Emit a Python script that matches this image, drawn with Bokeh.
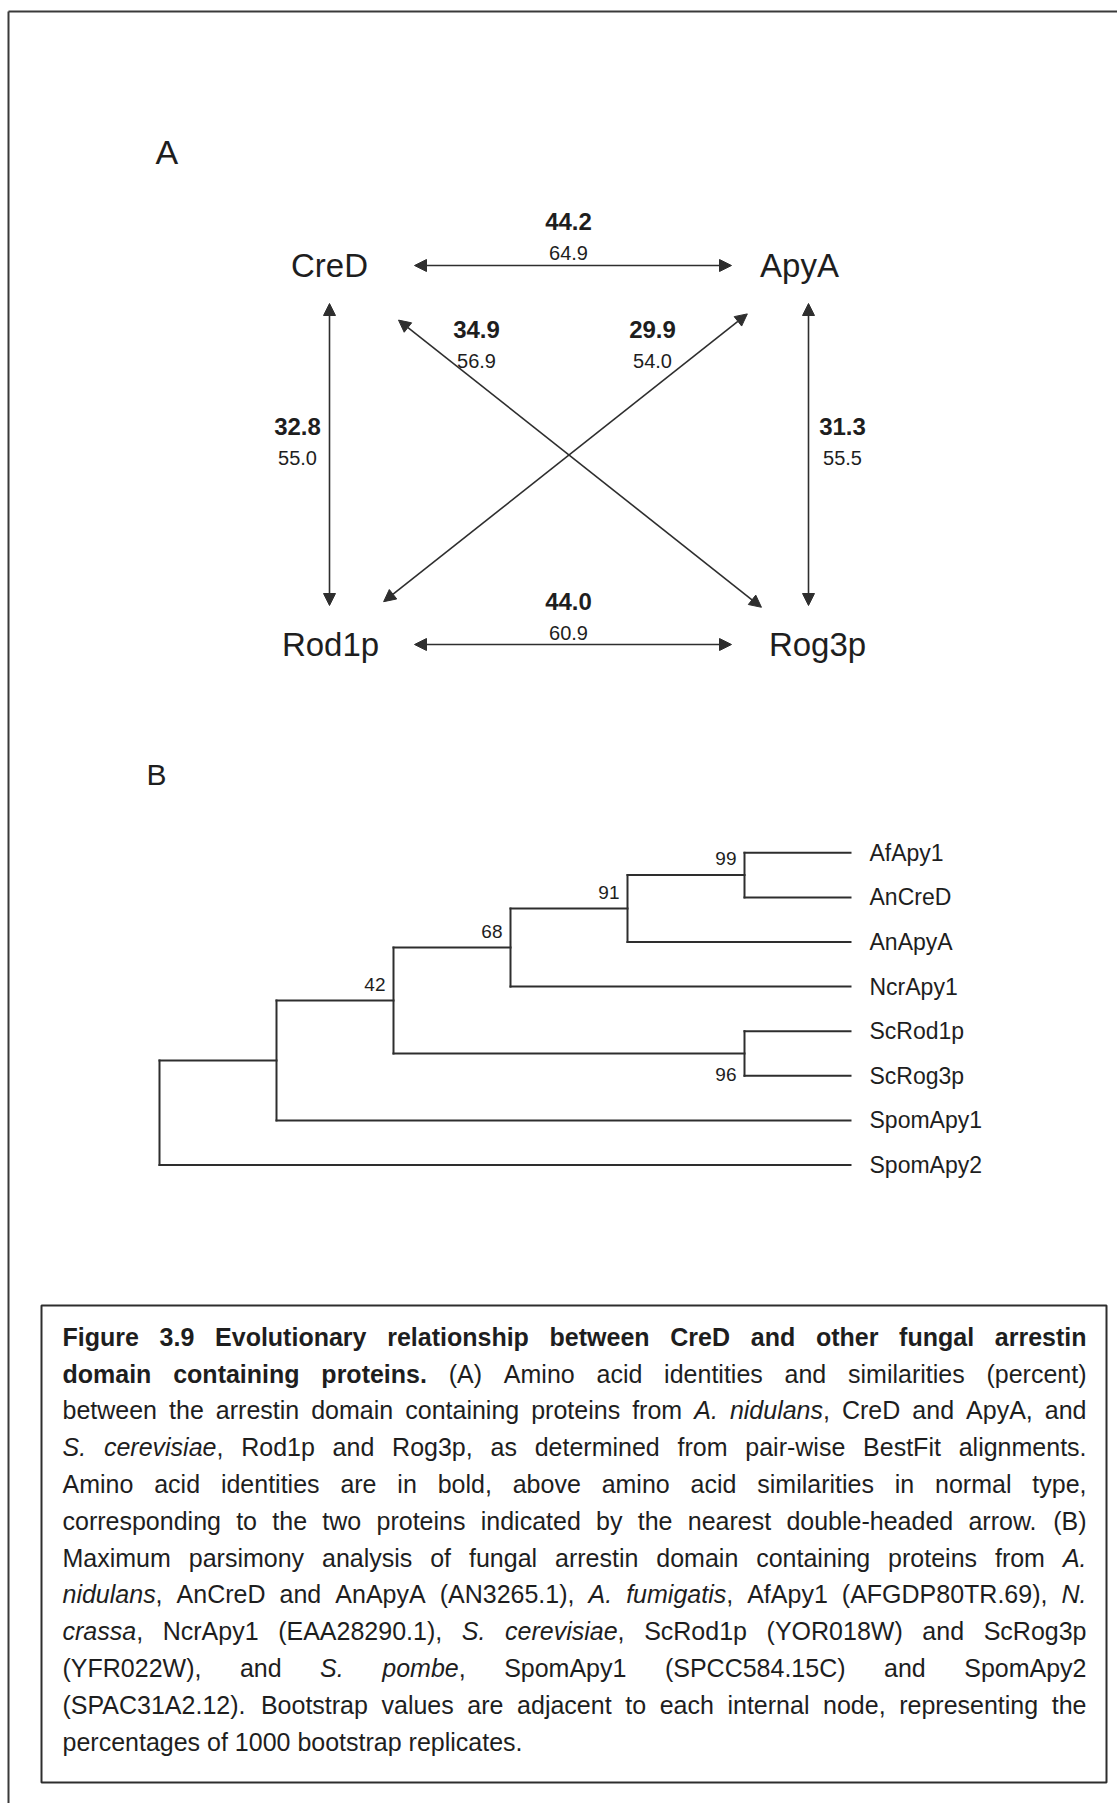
import math
from bokeh.plotting import figure
from bokeh.models import ColumnDataSource, Arrow, NormalHead
from bokeh.core.properties import value
from bokeh.embed import file_html
from bokeh.resources import INLINE

W, H = 1117, 1803

# ---------------- data ----------------
proteins = ["CreD", "ApyA", "Rod1p", "Rog3p"]
pair_from = ["CreD", "CreD", "ApyA", "Rod1p", "CreD", "ApyA"]
pair_to = ["ApyA", "Rod1p", "Rog3p", "Rog3p", "Rog3p", "Rod1p"]
identity = [44.2, 32.8, 31.3, 44.0, 34.9, 29.9]
similarity = [64.9, 55.0, 55.5, 60.9, 56.9, 54.0]

leaves = ["AfApy1", "AnCreD", "AnApyA", "NcrApy1", "ScRod1p", "ScRog3p", "SpomApy1", "SpomApy2"]
clade_names = ["n99", "n91", "n68", "n96", "n42", "n1", "root"]
clade_children = [["AfApy1", "AnCreD"], ["n99", "AnApyA"], ["n91", "NcrApy1"],
                  ["ScRod1p", "ScRog3p"], ["n68", "n96"], ["n42", "SpomApy1"], ["n1", "SpomApy2"]]
bootstrap = [99, 91, 68, 96, 42, None, None]

caption_lines = [
    [("Figure 3.9 Evolutionary relationship between CreD and other fungal arrestin", "bold")],
    [("domain containing proteins.", "bold"), (" (A) Amino acid identities and similarities (percent)", "normal")],
    [("between the arrestin domain containing proteins from ", "normal"), ("A. nidulans", "italic"),
     (", CreD and ApyA, and", "normal")],
    [("S. cerevisiae", "italic"), (", Rod1p and Rog3p, as determined from pair-wise BestFit alignments.", "normal")],
    [("Amino acid identities are in bold, above amino acid similarities in normal type,", "normal")],
    [("corresponding to the two proteins indicated by the nearest double-headed arrow. (B)", "normal")],
    [("Maximum parsimony analysis of fungal arrestin domain containing proteins from ", "normal"), ("A.", "italic")],
    [("nidulans", "italic"), (", AnCreD and AnApyA (AN3265.1), ", "normal"), ("A. fumigatis", "italic"),
     (", AfApy1 (AFGDP80TR.69), ", "normal"), ("N.", "italic")],
    [("crassa", "italic"), (", NcrApy1 (EAA28290.1), ", "normal"), ("S. cerevisiae", "italic"),
     (", ScRod1p (YOR018W) and ScRog3p", "normal")],
    [("(YFR022W), and ", "normal"), ("S. pombe", "italic"), (", SpomApy1 (SPCC584.15C) and SpomApy2", "normal")],
    [("(SPAC31A2.12). Bootstrap values are adjacent to each internal node, representing the", "normal")],
    [("percentages of 1000 bootstrap replicates.", "normal")],
]

# ---------------- layout ----------------
INK = "#1e1e1e"
LINE = "#2e2e2e"
SANS = value("Liberation Sans")

node_pt = {"CreD": (329, 265), "ApyA": (808, 265), "Rod1p": (329, 644), "Rog3p": (808, 644)}
label_pt = {"CreD": (329, 265), "ApyA": (799, 265), "Rod1p": (330, 643.5), "Rog3p": (817, 643.5)}
arrow_gaps = [(85, 77), (38, 39), (38, 39), (85, 77), (88, 60), (78, 69)]
num_pt = [(568, 221), (297, 426), (842, 426), (568, 601), (476, 329), (652, 329)]
sim_dy = 31

leaf_y0, leaf_dy = 852.3, 44.6
leaf_x, root_x, node_step, leaf_label_x = 850, 159, 117, 869
boot_below = {"n96"}

cap_left, cap_right, cap_base0, cap_dy, cap_size = 62, 1086, 1345, 36.8, 25

p = figure(width=W, height=H, x_range=(0, W), y_range=(H, 0), min_border=0,
           x_axis_location=None, y_axis_location=None, toolbar_location=None,
           output_backend="svg", background_fill_color="white", border_fill_color="white")
p.grid.visible = False
p.outline_line_color = None

# page frame and caption box
p.segment(x0=[8, 8], y0=[11, 11], x1=[W, 8], y1=[11, H], line_color="#3a3a3a", line_width=2)
p.quad(left=[41], right=[1106], top=[1305], bottom=[1782], fill_color=None, line_color=LINE, line_width=2)

# ---------------- panel A ----------------
p.text(x=[155], y=[151], text=["A"], text_font=SANS, text_font_size="34px",
       text_baseline="middle", text_align="left", text_color=INK)
p.text(x=[label_pt[k][0] for k in proteins], y=[label_pt[k][1] for k in proteins], text=proteins,
       text_font=SANS, text_font_size="33px", text_baseline="middle", text_align="center", text_color=INK)

xs, ys, xe, ye = [], [], [], []
for a, b, (g0, g1) in zip(pair_from, pair_to, arrow_gaps):
    (x0, y0), (x1, y1) = node_pt[a], node_pt[b]
    L = math.hypot(x1 - x0, y1 - y0)
    ux, uy = (x1 - x0) / L, (y1 - y0) / L
    xs.append(x0 + ux * g0); ys.append(y0 + uy * g0)
    xe.append(x1 - ux * g1); ye.append(y1 - uy * g1)
asrc = ColumnDataSource(dict(x0=xs, y0=ys, x1=xe, y1=ye))


def head():
    return NormalHead(size=12, fill_color=LINE, line_color=LINE, line_width=1)


p.add_layout(Arrow(start=head(), end=head(), x_start="x0", y_start="y0", x_end="x1", y_end="y1",
                   source=asrc, line_color=LINE, line_width=1.6))

p.text(x=[q[0] for q in num_pt], y=[q[1] for q in num_pt], text=["%.1f" % v for v in identity],
       text_font=SANS, text_font_style="bold", text_font_size="24px", text_baseline="middle",
       text_align="center", text_color=INK)
p.text(x=[q[0] for q in num_pt], y=[q[1] + sim_dy for q in num_pt], text=["%.1f" % v for v in similarity],
       text_font=SANS, text_font_size="20px", text_baseline="middle", text_align="center", text_color=INK)

# ---------------- panel B ----------------
p.text(x=[146], y=[774], text=["B"], text_font=SANS, text_font_size="30px",
       text_baseline="middle", text_align="left", text_color=INK)

children = dict(zip(clade_names, clade_children))
ypos = {name: leaf_y0 + i * leaf_dy for i, name in enumerate(leaves)}
height = {name: 0 for name in leaves}
for name in clade_names:
    ch = children[name]
    ypos[name] = (ypos[ch[0]] + ypos[ch[-1]]) / 2
    height[name] = 1 + max(height[c] for c in ch)
xpos = {n: leaf_x for n in leaves}
for n in clade_names:
    xpos[n] = root_x + (height["root"] - height[n]) * node_step

sx0, sy0, sx1, sy1 = [], [], [], []
for name in clade_names:
    ch = children[name]
    sx0.append(xpos[name]); sy0.append(ypos[ch[0]]); sx1.append(xpos[name]); sy1.append(ypos[ch[-1]])
    for c in ch:
        sx0.append(xpos[name]); sy0.append(ypos[c]); sx1.append(xpos[c]); sy1.append(ypos[c])
p.segment(x0=sx0, y0=sy0, x1=sx1, y1=sy1, line_color=LINE, line_width=2, line_cap="square")

p.text(x=[leaf_label_x] * len(leaves), y=[ypos[n] for n in leaves], text=leaves, text_font=SANS,
       text_font_size="23px", text_baseline="middle", text_align="left", text_color=INK)

bx, by, bt = [], [], []
for name, b in zip(clade_names, bootstrap):
    if b is None:
        continue
    bx.append(xpos[name] - 8)
    by.append(ypos[name] + 21 if name in boot_below else ypos[name] - 16.5)
    bt.append(str(b))
p.text(x=bx, y=by, text=bt, text_font=SANS, text_font_size="19px", text_baseline="middle",
       text_align="right", text_color=INK)

# ---------------- caption (justified, word by word) ----------------
REG = {' ': 278, '(': 333, ')': 333, ',': 278, '-': 333, '.': 278,
       'A': 667, 'B': 667, 'C': 722, 'D': 722, 'E': 667, 'F': 611, 'G': 778, 'H': 722, 'I': 278, 'J': 500,
       'K': 667, 'L': 556, 'M': 833, 'N': 722, 'O': 778, 'P': 667, 'Q': 778, 'R': 722, 'S': 667, 'T': 611,
       'U': 722, 'V': 667, 'W': 944, 'X': 667, 'Y': 667, 'Z': 611,
       'a': 556, 'b': 556, 'c': 500, 'd': 556, 'e': 556, 'f': 278, 'g': 556, 'h': 556, 'i': 222, 'j': 222,
       'k': 500, 'l': 222, 'm': 833, 'n': 556, 'o': 556, 'p': 556, 'q': 556, 'r': 333, 's': 500, 't': 278,
       'u': 556, 'v': 500, 'w': 722, 'x': 500, 'y': 500, 'z': 500}
BOLD = dict(REG)
BOLD.update({'A': 722, 'B': 722, 'J': 556, 'K': 722, 'L': 611,
             'a': 556, 'b': 611, 'c': 556, 'd': 611, 'e': 556, 'f': 333, 'g': 611, 'h': 611, 'i': 278,
             'j': 278, 'k': 556, 'l': 278, 'm': 889, 'n': 611, 'o': 611, 'p': 611, 'q': 611, 'r': 389,
             's': 556, 't': 333, 'u': 611, 'v': 556, 'w': 778, 'x': 556, 'y': 556, 'z': 500})
for d in "0123456789":
    REG[d] = 556
    BOLD[d] = 556


def tw(txt, style):
    tbl = BOLD if style == "bold" else REG
    return sum(tbl.get(ch, 556) for ch in txt) * cap_size / 1000.0


def words_of(line):
    words, cur = [], []
    for txt, st in line:
        parts = txt.split(" ")
        for k, part in enumerate(parts):
            if k > 0 and cur:
                words.append(cur)
                cur = []
            if part:
                cur.append((part, st))
    if cur:
        words.append(cur)
    return words


cx, cy, ct, cs = [], [], [], []
for i, line in enumerate(caption_lines):
    words = words_of(line)
    wid = [sum(tw(t, s) for t, s in w) for w in words]
    total = sum(wid)
    if i < len(caption_lines) - 1 and len(words) > 1:
        gap = (cap_right - cap_left - total) / (len(words) - 1)
    else:
        gap = REG[' '] * cap_size / 1000.0
    x = cap_left
    mid = cap_base0 + i * cap_dy - 0.35 * cap_size
    for w, ww in zip(words, wid):
        xx = x
        for t, s in w:
            cx.append(xx); cy.append(mid); ct.append(t); cs.append(s)
            xx += tw(t, s)
        x += ww + gap
csrc = ColumnDataSource(dict(x=cx, y=cy, text=ct, style=cs))
p.text(x="x", y="y", text="text", text_font_style="style", source=csrc, text_font=SANS,
       text_font_size="%dpx" % cap_size, text_baseline="middle", text_align="left", text_color=INK)

open("out.html", "w").write(file_html(p, INLINE))
